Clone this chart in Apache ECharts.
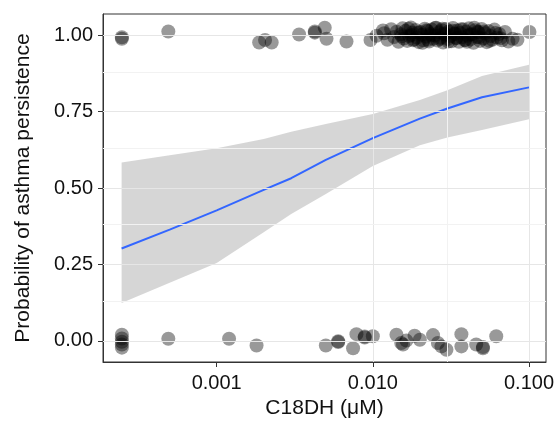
<!DOCTYPE html>
<html><head><meta charset="utf-8">
<script src="https://cdn.jsdelivr.net/npm/echarts@6/dist/echarts.min.js"></script>
<style>html,body{margin:0;padding:0;background:#fff}#c{width:558px;height:436px}</style>
</head><body><div id="c"></div>
<script>
// Axis ticks / grid
const xTicks = [0.001, 0.01, 0.1];
const xTickLabels = ['0.001', '0.010', '0.100'];
const xMinor = [0.000316, 0.00316, 0.0316];
const yTicks = [0, 0.25, 0.5, 0.75, 1];
const yTickLabels = ['0.00', '0.25', '0.50', '0.75', '1.00'];
const yMinor = [0.125, 0.375, 0.625, 0.875];

// Observed (jittered) outcome = 1
const onesX = [0.000247, 0.000247, 0.00049, 0.00187, 0.00204, 0.00225, 0.00337, 0.00425, 0.00425, 0.00492, 0.00505, 0.00678, 0.00966, 0.01055, 0.0116,
  0.0118, 0.0124, 0.0131, 0.0137, 0.0142, 0.0146, 0.0151, 0.0155, 0.0158, 0.0162,
  0.0166, 0.0171, 0.0175, 0.0179, 0.0183, 0.0188, 0.0192, 0.0197, 0.0201, 0.0206,
  0.0211, 0.0215, 0.0219, 0.0224, 0.0229, 0.0233, 0.0238, 0.0244, 0.0249, 0.0254,
  0.0259, 0.0265, 0.0271, 0.0276, 0.0282, 0.0288, 0.0294, 0.0301, 0.0307, 0.0313,
  0.0319, 0.0326, 0.0333, 0.0341, 0.0348, 0.0356, 0.0363, 0.0371, 0.0379, 0.0387,
  0.0396, 0.0405, 0.0413, 0.0422, 0.0431, 0.0441, 0.0452, 0.0463, 0.0474, 0.0486,
  0.0497, 0.0509, 0.0522, 0.0536, 0.0551, 0.0567, 0.0583, 0.0601, 0.0622, 0.0645,
  0.0671, 0.0702, 0.0738, 0.0785, 0.0843, 0.1007,
  0.0153, 0.0169, 0.0181, 0.0194, 0.0208, 0.0221, 0.0236, 0.0251, 0.0268, 0.0285,
  0.0304, 0.0322, 0.0345, 0.0367, 0.0391, 0.0418, 0.0446, 0.0479, 0.0515, 0.0558,
  0.0612, 0.0658, 0.0177, 0.0226, 0.0279, 0.0338, 0.0401, 0.0469];
const onesY = [0.993, 0.988, 1.012, 0.976, 0.984, 0.976, 1.002, 1.012, 1.008, 1.024, 0.988, 0.979, 0.984, 0.998, 1.015,
  1.006, 0.985, 1.019, 0.994, 1.011, 0.978, 1.003, 1.022, 0.989, 1.014,
  0.981, 0.997, 1.025, 1.008, 0.986, 1.017, 0.992, 0.977, 1.010, 1.001,
  0.983, 1.021, 0.995, 1.013, 0.979, 1.004, 1.018, 0.988, 0.999, 1.024,
  0.982, 1.009, 0.991, 1.016, 0.976, 1.002, 1.020, 0.987, 1.012, 0.996,
  0.980, 1.023, 1.005, 0.990, 1.015, 0.978, 1.007, 0.993, 1.019, 0.984,
  1.011, 0.998, 1.022, 0.986, 1.003, 0.975, 1.016, 0.994, 1.009, 0.981,
  1.020, 0.989, 1.006, 0.977, 1.013, 0.997, 0.985, 1.018, 0.992, 1.004,
  0.983, 1.010, 0.979, 0.988, 0.985, 1.010,
  0.996, 1.021, 0.983, 1.008, 0.975, 1.016, 0.999, 1.023, 0.987, 1.005,
  0.979, 1.014, 0.991, 1.019, 0.984, 1.002, 1.024, 0.993, 1.012, 0.981,
  1.007, 0.990, 1.000, 0.985, 1.021, 1.004, 0.978, 1.011];

// Observed (jittered) outcome = 0
const zerosX = [0.000247, 0.000247, 0.000247, 0.000247, 0.000247, 0.00049, 0.0012, 0.0018, 0.0050, 0.0060, 0.0060, 0.00747, 0.00785, 0.00887, 0.00887, 0.0100,
  0.01416, 0.0152, 0.0156, 0.0164, 0.0185, 0.0200, 0.0243, 0.0261, 0.0275, 0.0296, 0.0369, 0.0369, 0.0459, 0.0507, 0.0507, 0.0617];
const zerosY = [0.020, 0.008, -0.003, -0.012, -0.022, 0.007, 0.007, -0.015, -0.015, -0.004, -0.001, -0.024, 0.022, 0.011, 0.014, 0.015,
  0.020, -0.007, -0.012, 0.001, 0.017, 0.004, 0.019, -0.007, -0.018, -0.029, 0.022, -0.018, -0.012, -0.024, -0.020, 0.015];

// Fitted logistic curve and 95% band
const fitX = [0.000246, 0.0005, 0.001, 0.002, 0.003, 0.005, 0.01, 0.02, 0.03, 0.05, 0.1];
const fitY = [0.302, 0.364, 0.427, 0.494, 0.532, 0.592, 0.663, 0.727, 0.760, 0.797, 0.829];
const upperY = [0.583, 0.607, 0.630, 0.660, 0.684, 0.709, 0.742, 0.788, 0.820, 0.866, 0.903];
const lowerY = [0.124, 0.190, 0.255, 0.355, 0.415, 0.480, 0.572, 0.640, 0.665, 0.690, 0.725];

const chart = echarts.init(document.getElementById('c'), null, {renderer: 'canvas'});
const gridColMajor = '#e6e6e6', gridColMinor = '#f2f2f2';
const gridLines = [].concat(
  xTicks.map(v => ({xAxis: v, lineStyle: {color: gridColMajor, width: 1, type: 'solid'}})),
  xMinor.map(v => ({xAxis: v, lineStyle: {color: gridColMinor, width: 1, type: 'solid'}})),
  yTicks.map(v => ({yAxis: v, lineStyle: {color: gridColMajor, width: 1, type: 'solid'}})),
  yMinor.map(v => ({yAxis: v, lineStyle: {color: gridColMinor, width: 1, type: 'solid'}}))
);
const pts = onesX.map((x, i) => [x, onesY[i]]).concat(zerosX.map((x, i) => [x, zerosY[i]]));
const font = 'Liberation Sans, Arial, Helvetica, sans-serif';

chart.setOption({
  animation: false,
  grid: {left: 103, right: 12, top: 14, bottom: 74, show: true, borderColor: '#333', borderWidth: 1, backgroundColor: '#fff'},
  xAxis: {
    type: 'log', logBase: 10, min: 0.000187, max: 0.1285,
    axisLine: {show: true, onZero: false, lineStyle: {color: '#333', width: 1}}, splitLine: {show: false},
    axisTick: {show: true, customValues: xTicks, length: 5, lineStyle: {color: '#333'}},
    axisLabel: {customValues: xTicks, fontSize: 20, color: '#111', fontFamily: font, margin: 11,
      formatter: v => { let b = 0; xTicks.forEach((t, i) => { if (Math.abs(Math.log10(t) - Math.log10(v)) < Math.abs(Math.log10(xTicks[b]) - Math.log10(v))) b = i; }); return xTickLabels[b]; }},
    name: 'C18DH (μM)', nameLocation: 'middle', nameGap: 36,
    nameTextStyle: {fontSize: 21, color: '#111', fontFamily: font}
  },
  yAxis: {
    type: 'value', min: -0.069, max: 1.069,
    axisLine: {show: true, onZero: false, lineStyle: {color: '#333', width: 1}}, splitLine: {show: false},
    axisTick: {show: true, customValues: yTicks, length: 5, lineStyle: {color: '#333'}},
    axisLabel: {customValues: yTicks, fontSize: 20, color: '#111', fontFamily: font, margin: 10,
      formatter: v => { let b = 0; yTicks.forEach((t, i) => { if (Math.abs(t - v) < Math.abs(yTicks[b] - v)) b = i; }); return yTickLabels[b]; }},
    name: 'Probability of asthma persistence', nameLocation: 'middle', nameGap: 69, nameRotate: 90,
    nameTextStyle: {fontSize: 21, color: '#111', fontFamily: font}
  },
  series: [
    {
      type: 'line', z: 1, data: [[fitX[0], fitY[0]]], symbol: 'none', lineStyle: {opacity: 0}, silent: true,
      markLine: {silent: true, symbol: ['none', 'none'], label: {show: false}, animation: false, data: gridLines}
    },
    {
      type: 'custom', z: 2, silent: true, data: [[fitX[0], fitY[0]]],
      renderItem: (params, api) => {
        const poly = [];
        fitX.forEach((x, i) => poly.push(api.coord([x, upperY[i]])));
        for (let i = fitX.length - 1; i >= 0; i--) poly.push(api.coord([fitX[i], lowerY[i]]));
        return {type: 'polygon', shape: {points: poly}, style: {fill: 'rgba(153,153,153,0.4)'}};
      }
    },
    {
      type: 'line', z: 3, data: fitX.map((x, i) => [x, fitY[i]]), symbol: 'none', silent: true,
      lineStyle: {color: '#3366FF', width: 2}
    },
    {
      type: 'scatter', z: 4, data: pts, symbolSize: 14, silent: true,
      itemStyle: {color: 'rgba(0,0,0,0.5)'}
    }
  ]
});
</script>
</body></html>
